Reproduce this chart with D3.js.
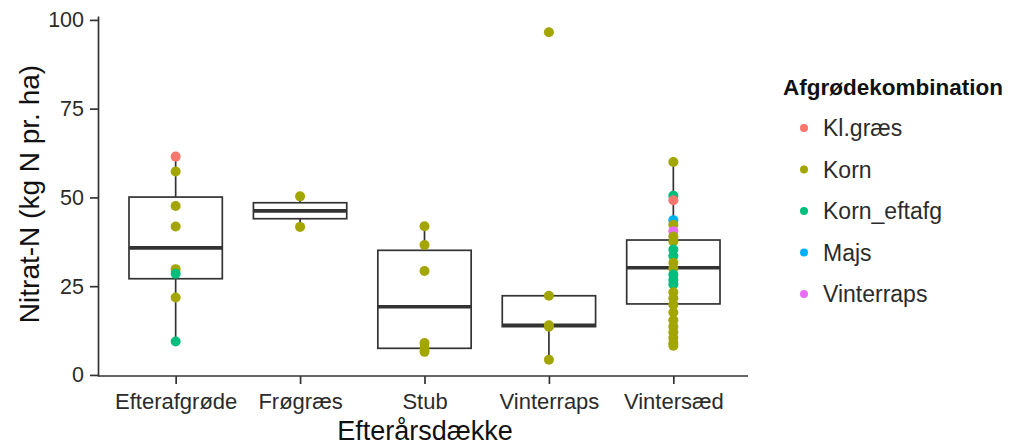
<!DOCTYPE html>
<html>
<head>
<meta charset="utf-8">
<script src="https://cdn.jsdelivr.net/npm/d3@7"></script>
<style>
  body { margin: 0; background: #fff; }
  text { font-family: "Liberation Sans", Arial, sans-serif; }
</style>
</head>
<body>
<div id="container"></div>
<script>
// Categories on the x axis and the legend
const categories = ["Efterafgrøde", "Frøgræs", "Stub", "Vinterraps", "Vintersæd"];
const crops = ["Kl.græs", "Korn", "Korn_eftafg", "Majs", "Vinterraps"];
const cropColours = ["#F8766D", "#A3A500", "#00BF7D", "#00B0F6", "#E76BF3"];
const yTicks = [0, 25, 50, 75, 100];

// Box statistics per category
const boxLow = [9.4, 41.7, 6.5, 4.3, 8.2];
const boxQ1 = [27.1, 44.0, 7.5, 13.6, 20.0];
const boxMedian = [35.8, 46.2, 19.2, 14.0, 30.2];
const boxQ3 = [50.1, 48.5, 35.1, 22.3, 38.0];
const boxHigh = [61.5, 50.3, 41.9, 22.3, 60.0];

// Individual points: category, crop combination, value
const pointGroup = [
  "Efterafgrøde", "Efterafgrøde", "Efterafgrøde", "Efterafgrøde", "Efterafgrøde", "Efterafgrøde", "Efterafgrøde", "Efterafgrøde",
  "Frøgræs", "Frøgræs",
  "Stub", "Stub", "Stub", "Stub", "Stub", "Stub",
  "Vinterraps", "Vinterraps", "Vinterraps", "Vinterraps", "Vinterraps",
  "Vintersæd", "Vintersæd", "Vintersæd", "Vintersæd", "Vintersæd", "Vintersæd", "Vintersæd", "Vintersæd",
  "Vintersæd", "Vintersæd", "Vintersæd", "Vintersæd", "Vintersæd", "Vintersæd", "Vintersæd", "Vintersæd",
  "Vintersæd", "Vintersæd", "Vintersæd", "Vintersæd", "Vintersæd", "Vintersæd", "Vintersæd", "Vintersæd", "Vintersæd"
];
const pointCrop = [
  "Kl.græs", "Korn", "Korn", "Korn", "Korn", "Korn_eftafg", "Korn", "Korn_eftafg",
  "Korn", "Korn",
  "Korn", "Korn", "Korn", "Korn", "Korn", "Korn",
  "Korn", "Korn", "Korn", "Korn", "Korn",
  "Korn", "Korn_eftafg", "Kl.græs", "Majs", "Korn", "Vinterraps", "Korn", "Korn",
  "Korn_eftafg", "Korn_eftafg", "Korn", "Korn", "Korn_eftafg", "Korn_eftafg", "Korn_eftafg", "Korn",
  "Korn", "Korn", "Korn", "Korn", "Korn", "Korn", "Korn", "Korn", "Korn"
];
const pointValue = [
  61.5, 57.3, 47.6, 41.8, 29.8, 28.5, 21.8, 9.4,
  50.3, 41.7,
  41.9, 36.6, 29.3, 9.0, 7.6, 6.5,
  96.5, 22.3, 14.0, 13.6, 4.3,
  60.0, 50.5, 49.2, 43.6, 42.3, 40.5, 39.0, 37.6,
  35.3, 33.5, 31.6, 30.0, 28.3, 26.8, 25.5, 23.3,
  21.6, 19.8, 17.6, 15.4, 13.6, 12.0, 10.4, 9.0, 8.2
];

const width = 1018;
const height = 446;
const marginLeft = 98;
const plotRight = 748;
const plotTop = 16;
const plotBottom = 376;
const ink = "#333333";

const x = d3.scalePoint()
  .domain(categories)
  .range([marginLeft + 3, plotRight])
  .padding(0.6);

const y = d3.scaleLinear()
  .domain([-0.3, 101.1])
  .range([plotBottom, plotTop]);

const colour = d3.scaleOrdinal().domain(crops).range(cropColours);

const svg = d3.create("svg").attr("width", width).attr("height", height);
document.getElementById("container").appendChild(svg.node());

const boxWidth = x.step() * 0.75;

const boxes = categories.map((c, i) => ({
  cat: c, low: boxLow[i], q1: boxQ1[i], med: boxMedian[i], q3: boxQ3[i], high: boxHigh[i]
}));

const boxG = svg.append("g");

// whiskers
boxG.selectAll("line.whisker-low")
  .data(boxes)
  .join("line")
  .attr("x1", d => x(d.cat)).attr("x2", d => x(d.cat))
  .attr("y1", d => y(d.low)).attr("y2", d => y(d.q1))
  .attr("stroke", ink).attr("stroke-width", 1.7);

boxG.selectAll("line.whisker-high")
  .data(boxes)
  .join("line")
  .attr("x1", d => x(d.cat)).attr("x2", d => x(d.cat))
  .attr("y1", d => y(d.q3)).attr("y2", d => y(d.high))
  .attr("stroke", ink).attr("stroke-width", 1.7);

// boxes
boxG.selectAll("rect")
  .data(boxes)
  .join("rect")
  .attr("x", d => x(d.cat) - boxWidth / 2)
  .attr("width", boxWidth)
  .attr("y", d => y(d.q3))
  .attr("height", d => y(d.q1) - y(d.q3))
  .attr("fill", "white")
  .attr("stroke", ink)
  .attr("stroke-width", 1.7);

// medians
boxG.selectAll("line.median")
  .data(boxes)
  .join("line")
  .attr("x1", d => x(d.cat) - boxWidth / 2)
  .attr("x2", d => x(d.cat) + boxWidth / 2)
  .attr("y1", d => y(d.med)).attr("y2", d => y(d.med))
  .attr("stroke", ink).attr("stroke-width", 3.6);

// points
const points = pointValue.map((v, i) => ({ cat: pointGroup[i], crop: pointCrop[i], value: v }));

svg.append("g")
  .selectAll("circle")
  .data(points)
  .join("circle")
  .attr("cx", d => x(d.cat))
  .attr("cy", d => y(d.value))
  .attr("r", 5)
  .attr("fill", d => colour(d.crop));

// y axis
const yAxis = svg.append("g")
  .attr("transform", `translate(${marginLeft},0)`)
  .call(d3.axisLeft(y).tickValues(yTicks).tickSize(8).tickSizeOuter(0).tickPadding(6));
yAxis.select(".domain").attr("stroke", ink).attr("stroke-width", 1.7);
yAxis.selectAll(".tick line").attr("stroke", ink).attr("stroke-width", 1.7);
yAxis.selectAll(".tick text")
  .attr("font-family", "'Liberation Sans', Arial, sans-serif")
  .attr("font-size", 21.5).attr("fill", "#2b2b2b");

// x axis
const xAxis = svg.append("g")
  .attr("transform", `translate(0,${plotBottom})`)
  .call(d3.axisBottom(x).tickSize(8).tickSizeOuter(0).tickPadding(9));
xAxis.select(".domain").remove();
xAxis.append("line")
  .attr("x1", marginLeft).attr("x2", plotRight)
  .attr("stroke", ink).attr("stroke-width", 1.7);
xAxis.selectAll(".tick line").attr("stroke", ink).attr("stroke-width", 1.7);
xAxis.selectAll(".tick text")
  .attr("font-family", "'Liberation Sans', Arial, sans-serif")
  .attr("font-size", 22).attr("fill", "#2b2b2b");

// axis titles
svg.append("text")
  .attr("x", (marginLeft + plotRight) / 2 + 2)
  .attr("y", 440)
  .attr("text-anchor", "middle")
  .attr("font-size", 27)
  .attr("fill", "#111")
  .text("Efterårsdække");

svg.append("text")
  .attr("transform", `translate(39,${(plotTop + plotBottom) / 2 - 2}) rotate(-90)`)
  .attr("text-anchor", "middle")
  .attr("font-size", 28)
  .attr("fill", "#111")
  .text("Nitrat-N (kg N pr. ha)");

// legend
const legend = svg.append("g").attr("transform", "translate(783,0)");
legend.append("text")
  .attr("x", 0).attr("y", 95)
  .attr("font-size", 22.5)
  .attr("font-weight", "bold")
  .attr("fill", "#111")
  .text("Afgrødekombination");

const items = legend.selectAll("g.item")
  .data(crops)
  .join("g")
  .attr("transform", (d, i) => `translate(0,${128 + i * 41.5})`);

items.append("circle")
  .attr("cx", 21).attr("cy", 0).attr("r", 4)
  .attr("fill", d => colour(d));

items.append("text")
  .attr("x", 40).attr("y", 8)
  .attr("font-size", 23)
  .attr("fill", "#2b2b2b")
  .text(d => d);
</script>
</body>
</html>
